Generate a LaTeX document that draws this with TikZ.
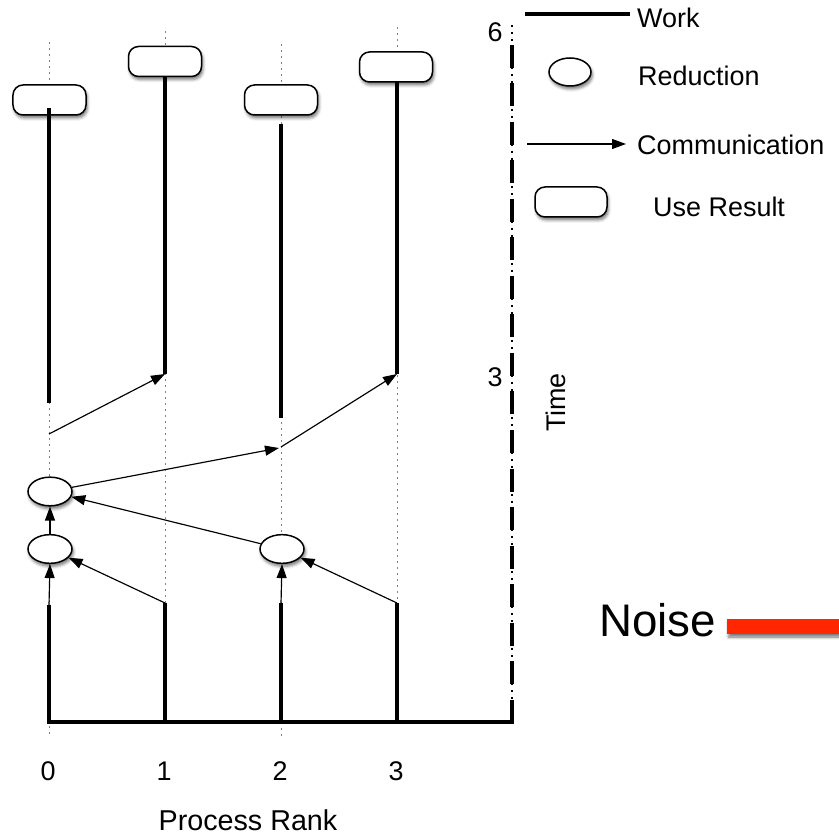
\documentclass[tikz,border=0pt]{standalone}
\usepackage{fontspec}
\setmainfont{Liberation Sans}
\usetikzlibrary{arrows.meta,shapes.geometric,shadows.blur}
\definecolor{noisered}{RGB}{255,38,0}
\begin{document}
\begin{tikzpicture}[x=0.3mm,y=-0.3mm,
  work/.style={line width=1.2mm},
  basework/.style={line width=1.35mm},
  guide/.style={gray,line width=0.3mm,dash pattern=on 0.6mm off 1.2mm},
  comm/.style={line width=0.35mm,-{Triangle[length=4.2mm,width=3mm]}},
  shade/.style={blur shadow={shadow xshift=0.4mm,shadow yshift=-0.9mm,shadow blur radius=0.9mm,shadow opacity=55}},
  useres/.style={draw,line width=0.45mm,fill=white,rounded corners=3mm,
    minimum width=21.9mm,minimum height=9mm,inner sep=0pt,shade},
  reduce/.style={draw,ellipse,line width=0.45mm,fill=white,
    minimum width=13.2mm,minimum height=8.6mm,inner sep=0pt,shade},
  lbl/.style={inner sep=0pt,anchor=base west,font=\fontsize{23}{27}\selectfont},
  tick/.style={inner sep=0pt,anchor=base,font=\fontsize{23}{27}\selectfont}
]
\useasboundingbox (0,0) rectangle (839,836);

% dotted rank guides
\coordinate (g0t) at (49,42);  \coordinate (g0b) at (49,738);
\coordinate (g1t) at (165,31); \coordinate (g1b) at (165,722);
\coordinate (g2t) at (281,44); \coordinate (g2b) at (281,738);
\coordinate (g3t) at (397,27); \coordinate (g3b) at (397,722);
\draw[guide] (g0t) -- (g0b);
\draw[guide] (g1t) -- (g1b);
\draw[guide] (g2t) -- (g2b);
\draw[guide] (g3t) -- (g3b);

% time axis: fine dotted core with heavy dashes over it
\coordinate (ta) at (512,25);
\coordinate (td) at (512,45);
\coordinate (tb) at (512,722);
\draw[line width=0.45mm,dash pattern=on 0.6mm off 1.5mm] (ta) -- (tb);
\draw[line width=1.2mm,dash pattern=on 6.9mm off 4.65mm] (td) -- (tb);
\node[tick] (t6) at (495,42) {6};
\node[tick] (t3) at (495,387) {3};
\node[inner sep=0pt,anchor=base,rotate=90,font=\fontsize{23}{27}\selectfont] (time) at (565,402.5) {Time};

% use-result boxes
\node[useres] (u0) at (49.5,100) {};
\node[useres] (u1) at (165,61.5) {};
\node[useres] (u2) at (281,100) {};
\node[useres] (u3) at (396,67) {};

% reductions
\node[reduce] (r0a) at (50,491.5) {};
\node[reduce] (r0b) at (50,549) {};
\node[reduce] (r2) at (282,549) {};

% upper work segments
\coordinate (w0t) at (49,108);  \coordinate (w0b) at (49,403);
\coordinate (w1t) at (165,77);  \coordinate (w1b) at (165,374);
\coordinate (w2t) at (281,124); \coordinate (w2b) at (281,418);
\coordinate (w3t) at (397,82);  \coordinate (w3b) at (397,374);
\draw[work] (w0t) -- (w0b);
\draw[work] (w1t) -- (w1b);
\draw[work] (w2t) -- (w2b);
\draw[work] (w3t) -- (w3b);

% lower work segments and rank axis
\coordinate (b0) at (49,605);  \coordinate (e0) at (49,722);
\coordinate (b1) at (165,603); \coordinate (e1) at (165,722);
\coordinate (b2) at (281,603); \coordinate (e2) at (281,722);
\coordinate (b3) at (397,603); \coordinate (e3) at (397,722);
\coordinate (axl) at (47,722); \coordinate (axr) at (514,722);
\draw[basework] (b0) -- (e0);
\draw[basework] (b1) -- (e1);
\draw[basework] (b2) -- (e2);
\draw[basework] (b3) -- (e3);
\draw[line width=1.2mm] (axl) -- (axr);

% communication
\coordinate (c0) at (49,434);
\coordinate (c2) at (279,448);
\coordinate (c2s) at (281,447);
\draw[comm] (b0) -- (r0b.south);
\draw[comm] (b2) -- (r2.south);
\draw[comm] (b1) -- (r0b);
\draw[comm] (b3) -- (r2);
\draw[comm] (r0b.north) -- (r0a.south);
\draw[comm] (r2) -- (r0a);
\draw[comm] (r0a) -- (c2);
\draw[comm] (c2s) -- (w3b);
\draw[comm] (c0) -- (w1b);

% rank labels
\node[tick] (n0) at (48,781) {0};
\node[tick] (n1) at (164,781) {1};
\node[tick] (n2) at (280,781) {2};
\node[tick] (n3) at (396,781) {3};
\node[inner sep=0pt,anchor=base,font=\fontsize{24.5}{28}\selectfont] (rank) at (248,830) {Process Rank};

% legend
\coordinate (lw1) at (525,14); \coordinate (lw2) at (630,14);
\draw[line width=1.2mm] (lw1) -- (lw2);
\node[lbl] (lwork) at (637,28) {Work};
\node[reduce,minimum width=12.6mm,minimum height=8.4mm] (lred) at (570,72) {};
\node[lbl] (lredt) at (638,86) {Reduction};
\coordinate (lc1) at (527,144); \coordinate (lc2) at (626,144);
\draw[comm] (lc1) -- (lc2);
\node[lbl] (lcomm) at (637,155) {Communication};
\node[useres,minimum width=21.6mm] (luse) at (571,202) {};
\node[lbl] (luset) at (653,217) {Use Result};

% noise marker
\node[inner sep=0pt,anchor=base west,font=\fontsize{39}{45}\selectfont] (noise) at (599,637) {Noise};
\node[fill=noisered,inner sep=0pt,minimum width=33.6mm,minimum height=4.5mm,anchor=west,shade] (bar) at (727,626.5) {};
\end{tikzpicture}
\end{document}
